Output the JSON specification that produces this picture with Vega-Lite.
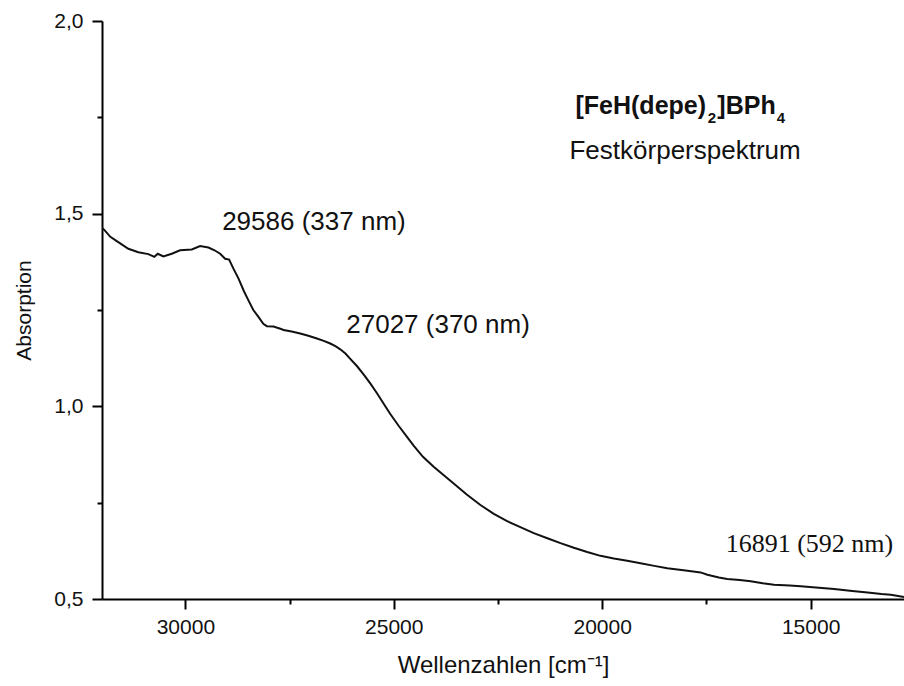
{
  "$schema": "https://vega.github.io/schema/vega-lite/v6.json",
  "width": 802,
  "height": 578,
  "autosize": {"type": "none"},
  "padding": {"left": 102, "top": 21, "right": 0, "bottom": 87},
  "background": "white",
  "config": {
    "view": {"stroke": null},
    "font": "Liberation Sans",
    "axis": {
      "grid": false,
      "domainColor": "#000000",
      "domainWidth": 2,
      "tickColor": "#000000",
      "tickWidth": 2,
      "tickSize": 10,
      "labelColor": "#111111",
      "labelFont": "Liberation Sans",
      "labelFontSize": 21,
      "titleColor": "#111111",
      "titleFont": "Liberation Sans",
      "titleFontWeight": "normal"
    }
  },
  "datasets": {
    "spectrum": [
      {"wavenumber": 32000, "absorbance": 1.463},
      {"wavenumber": 31945, "absorbance": 1.458},
      {"wavenumber": 31800, "absorbance": 1.440},
      {"wavenumber": 31609, "absorbance": 1.426},
      {"wavenumber": 31368, "absorbance": 1.409},
      {"wavenumber": 31128, "absorbance": 1.400},
      {"wavenumber": 30888, "absorbance": 1.395},
      {"wavenumber": 30744, "absorbance": 1.388},
      {"wavenumber": 30663, "absorbance": 1.396},
      {"wavenumber": 30528, "absorbance": 1.389},
      {"wavenumber": 30326, "absorbance": 1.396},
      {"wavenumber": 30127, "absorbance": 1.405},
      {"wavenumber": 29846, "absorbance": 1.407},
      {"wavenumber": 29647, "absorbance": 1.416},
      {"wavenumber": 29447, "absorbance": 1.412},
      {"wavenumber": 29300, "absorbance": 1.405},
      {"wavenumber": 29166, "absorbance": 1.396},
      {"wavenumber": 29046, "absorbance": 1.383},
      {"wavenumber": 28950, "absorbance": 1.381},
      {"wavenumber": 28850, "absorbance": 1.358},
      {"wavenumber": 28727, "absorbance": 1.332},
      {"wavenumber": 28600, "absorbance": 1.300},
      {"wavenumber": 28487, "absorbance": 1.275},
      {"wavenumber": 28370, "absorbance": 1.250},
      {"wavenumber": 28247, "absorbance": 1.232},
      {"wavenumber": 28130, "absorbance": 1.214},
      {"wavenumber": 28046, "absorbance": 1.208},
      {"wavenumber": 27886, "absorbance": 1.207},
      {"wavenumber": 27685, "absorbance": 1.200},
      {"wavenumber": 27646, "absorbance": 1.198},
      {"wavenumber": 27450, "absorbance": 1.194},
      {"wavenumber": 27245, "absorbance": 1.189},
      {"wavenumber": 27050, "absorbance": 1.183},
      {"wavenumber": 26844, "absorbance": 1.176},
      {"wavenumber": 26680, "absorbance": 1.170},
      {"wavenumber": 26525, "absorbance": 1.163},
      {"wavenumber": 26400, "absorbance": 1.156},
      {"wavenumber": 26284, "absorbance": 1.148},
      {"wavenumber": 26160, "absorbance": 1.137},
      {"wavenumber": 26044, "absorbance": 1.123},
      {"wavenumber": 25880, "absorbance": 1.104},
      {"wavenumber": 25725, "absorbance": 1.083},
      {"wavenumber": 25560, "absorbance": 1.059},
      {"wavenumber": 25403, "absorbance": 1.034},
      {"wavenumber": 25250, "absorbance": 1.008},
      {"wavenumber": 25084, "absorbance": 0.980},
      {"wavenumber": 24880, "absorbance": 0.949},
      {"wavenumber": 24683, "absorbance": 0.921},
      {"wavenumber": 24524, "absorbance": 0.898},
      {"wavenumber": 24300, "absorbance": 0.869},
      {"wavenumber": 24044, "absorbance": 0.843},
      {"wavenumber": 23800, "absorbance": 0.821},
      {"wavenumber": 23563, "absorbance": 0.800},
      {"wavenumber": 23250, "absorbance": 0.771},
      {"wavenumber": 22922, "absorbance": 0.744},
      {"wavenumber": 22600, "absorbance": 0.721},
      {"wavenumber": 22281, "absorbance": 0.702},
      {"wavenumber": 21950, "absorbance": 0.686},
      {"wavenumber": 21642, "absorbance": 0.671},
      {"wavenumber": 21300, "absorbance": 0.657},
      {"wavenumber": 21001, "absorbance": 0.645},
      {"wavenumber": 20680, "absorbance": 0.633},
      {"wavenumber": 20360, "absorbance": 0.622},
      {"wavenumber": 20041, "absorbance": 0.612},
      {"wavenumber": 19721, "absorbance": 0.605},
      {"wavenumber": 19400, "absorbance": 0.599},
      {"wavenumber": 19080, "absorbance": 0.593},
      {"wavenumber": 18750, "absorbance": 0.586},
      {"wavenumber": 18439, "absorbance": 0.580},
      {"wavenumber": 18000, "absorbance": 0.574},
      {"wavenumber": 17639, "absorbance": 0.569},
      {"wavenumber": 17478, "absorbance": 0.563},
      {"wavenumber": 17200, "absorbance": 0.556},
      {"wavenumber": 17000, "absorbance": 0.552},
      {"wavenumber": 16700, "absorbance": 0.549},
      {"wavenumber": 16438, "absorbance": 0.546},
      {"wavenumber": 16150, "absorbance": 0.541},
      {"wavenumber": 15879, "absorbance": 0.537},
      {"wavenumber": 15500, "absorbance": 0.535},
      {"wavenumber": 15237, "absorbance": 0.533},
      {"wavenumber": 14800, "absorbance": 0.529},
      {"wavenumber": 14437, "absorbance": 0.526},
      {"wavenumber": 14000, "absorbance": 0.521},
      {"wavenumber": 13636, "absorbance": 0.517},
      {"wavenumber": 13300, "absorbance": 0.513},
      {"wavenumber": 13076, "absorbance": 0.511},
      {"wavenumber": 12760, "absorbance": 0.505}
    ],
    "labelsSans": [
      {"x": 29118, "y": 1.457, "label": "29586 (337 nm)"},
      {"x": 26140, "y": 1.190, "label": "27027 (370 nm)"},
      {"x": 20785, "y": 1.643, "label": "Festkörperspektrum"}
    ],
    "labelsSerif": [
      {"x": 17039, "y": 0.622, "label": "16891 (592 nm)"}
    ],
    "formulaMain": [
      {"x": 20641, "y": 1.759, "label": "[FeH(depe)"},
      {"x": 17238, "y": 1.759, "label": "]BPh"}
    ],
    "formulaSub": [
      {"x": 17471, "y": 1.735, "label": "2"},
      {"x": 15814, "y": 1.735, "label": "4"}
    ]
  },
  "resolve": {"axis": {"x": "independent", "y": "independent"}},
  "layer": [
    {
      "data": {"name": "spectrum"},
      "mark": {"type": "line", "color": "#111111", "strokeWidth": 2, "clip": true},
      "encoding": {
        "x": {
          "field": "wavenumber", "type": "quantitative",
          "scale": {"domain": [12760, 32000], "reverse": true, "nice": false, "zero": false},
          "axis": {
            "orient": "bottom",
            "values": [30000, 25000, 20000, 15000],
            "format": "d",
            "labelPadding": 7,
            "title": "Wellenzahlen [cm⁻¹]",
            "titleFontSize": 24,
            "titlePadding": 16
          }
        },
        "y": {
          "field": "absorbance", "type": "quantitative",
          "scale": {"domain": [0.5, 2.0], "nice": false, "zero": false},
          "axis": {
            "orient": "left",
            "values": [0.5, 1.0, 1.5, 2.0],
            "labelExpr": "replace(format(datum.value, '.1f'), '.', ',')",
            "labelPadding": 9,
            "title": "Absorption",
            "titleFontSize": 21,
            "titlePadding": 19
          }
        }
      }
    },
    {
      "data": {"name": "spectrum"},
      "mark": {"type": "line", "opacity": 0},
      "encoding": {
        "x": {
          "field": "wavenumber", "type": "quantitative",
          "axis": {"orient": "bottom", "values": [27500, 22500, 17500], "labels": false, "domain": false, "tickSize": 5, "title": null}
        },
        "y": {
          "field": "absorbance", "type": "quantitative",
          "axis": {"orient": "left", "values": [0.75, 1.25, 1.75], "labels": false, "domain": false, "tickSize": 5, "title": null}
        }
      }
    },
    {
      "data": {"name": "labelsSans"},
      "mark": {"type": "text", "align": "left", "baseline": "alphabetic", "font": "Liberation Sans", "fontSize": 26, "color": "#111111"},
      "encoding": {
        "x": {"field": "x", "type": "quantitative", "axis": null},
        "y": {"field": "y", "type": "quantitative", "axis": null},
        "text": {"field": "label"}
      }
    },
    {
      "data": {"name": "labelsSerif"},
      "mark": {"type": "text", "align": "left", "baseline": "alphabetic", "font": "Liberation Serif", "fontSize": 26, "color": "#111111"},
      "encoding": {
        "x": {"field": "x", "type": "quantitative", "axis": null},
        "y": {"field": "y", "type": "quantitative", "axis": null},
        "text": {"field": "label"}
      }
    },
    {
      "data": {"name": "formulaMain"},
      "mark": {"type": "text", "align": "left", "baseline": "alphabetic", "font": "Liberation Sans", "fontWeight": "bold", "fontSize": 25, "color": "#111111"},
      "encoding": {
        "x": {"field": "x", "type": "quantitative", "axis": null},
        "y": {"field": "y", "type": "quantitative", "axis": null},
        "text": {"field": "label"}
      }
    },
    {
      "data": {"name": "formulaSub"},
      "mark": {"type": "text", "align": "left", "baseline": "alphabetic", "font": "Liberation Sans", "fontWeight": "bold", "fontSize": 15, "color": "#111111"},
      "encoding": {
        "x": {"field": "x", "type": "quantitative", "axis": null},
        "y": {"field": "y", "type": "quantitative", "axis": null},
        "text": {"field": "label"}
      }
    }
  ]
}
